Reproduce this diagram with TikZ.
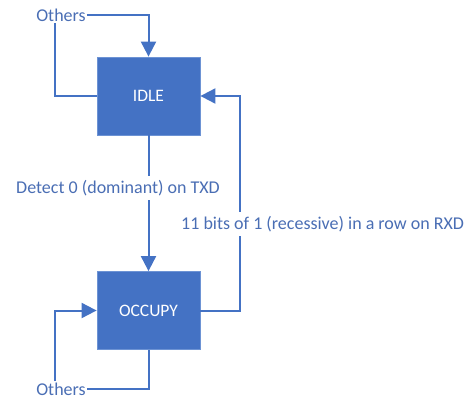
\documentclass[tikz,border=0pt]{standalone}
\usepackage{fontspec}
\setmainfont{Carlito}
\usetikzlibrary{arrows.meta}
\definecolor{accent}{HTML}{4472C4}
\definecolor{rim}{HTML}{6D93D4}
\definecolor{labeltext}{HTML}{4A6EB4}
\begin{document}
\begin{tikzpicture}[x=1pt,y=-1pt,
  state/.style={fill=accent, draw=rim, line width=0.8pt, minimum width=103pt,
    minimum height=78pt, text=white, font=\fontsize{17.5}{20}\selectfont},
  wire/.style={draw=accent, line width=2pt},
  arr/.style={wire, -{Triangle[width=15pt,length=15pt]}},
  lbl/.style={text=labeltext, font=\fontsize{18}{20}\selectfont, inner sep=1pt},
  cut/.style={lbl, fill=white, inner ysep=4pt}]
\useasboundingbox (0,0) rectangle (469,399);

% states
\node[state] (idle) at (148.5,96) {IDLE};
\node[state] (occupy) at (148.5,310.5) {OCCUPY};

% self-loop labels
\node[lbl] (otop) at (61,15) {Others};
\node[lbl] (obot) at (61,389) {Others};

% IDLE self-loop
\draw[wire] (idle.west) -| ([xshift=-6pt]otop.south);
\draw[arr] (otop.east) -| (idle.north);

% OCCUPY self-loop
\draw[wire] (occupy.south) |- (obot.east);
\draw[arr] ([xshift=-6pt]obot.north) |- (occupy.west);

% IDLE -> OCCUPY
\draw[arr] (idle.south) -- (occupy.north);
\node[cut, anchor=west] (detect) at (15,188) {Detect 0 (dominant) on TXD};

% OCCUPY -> IDLE
\coordinate (turn) at (240,96);
\draw[arr] (occupy.east) -| (turn) -- (idle.east);
\node[cut, anchor=west] (bits) at (180,224) {11 bits of 1 (recessive) in a row on RXD};
\end{tikzpicture}
\end{document}
